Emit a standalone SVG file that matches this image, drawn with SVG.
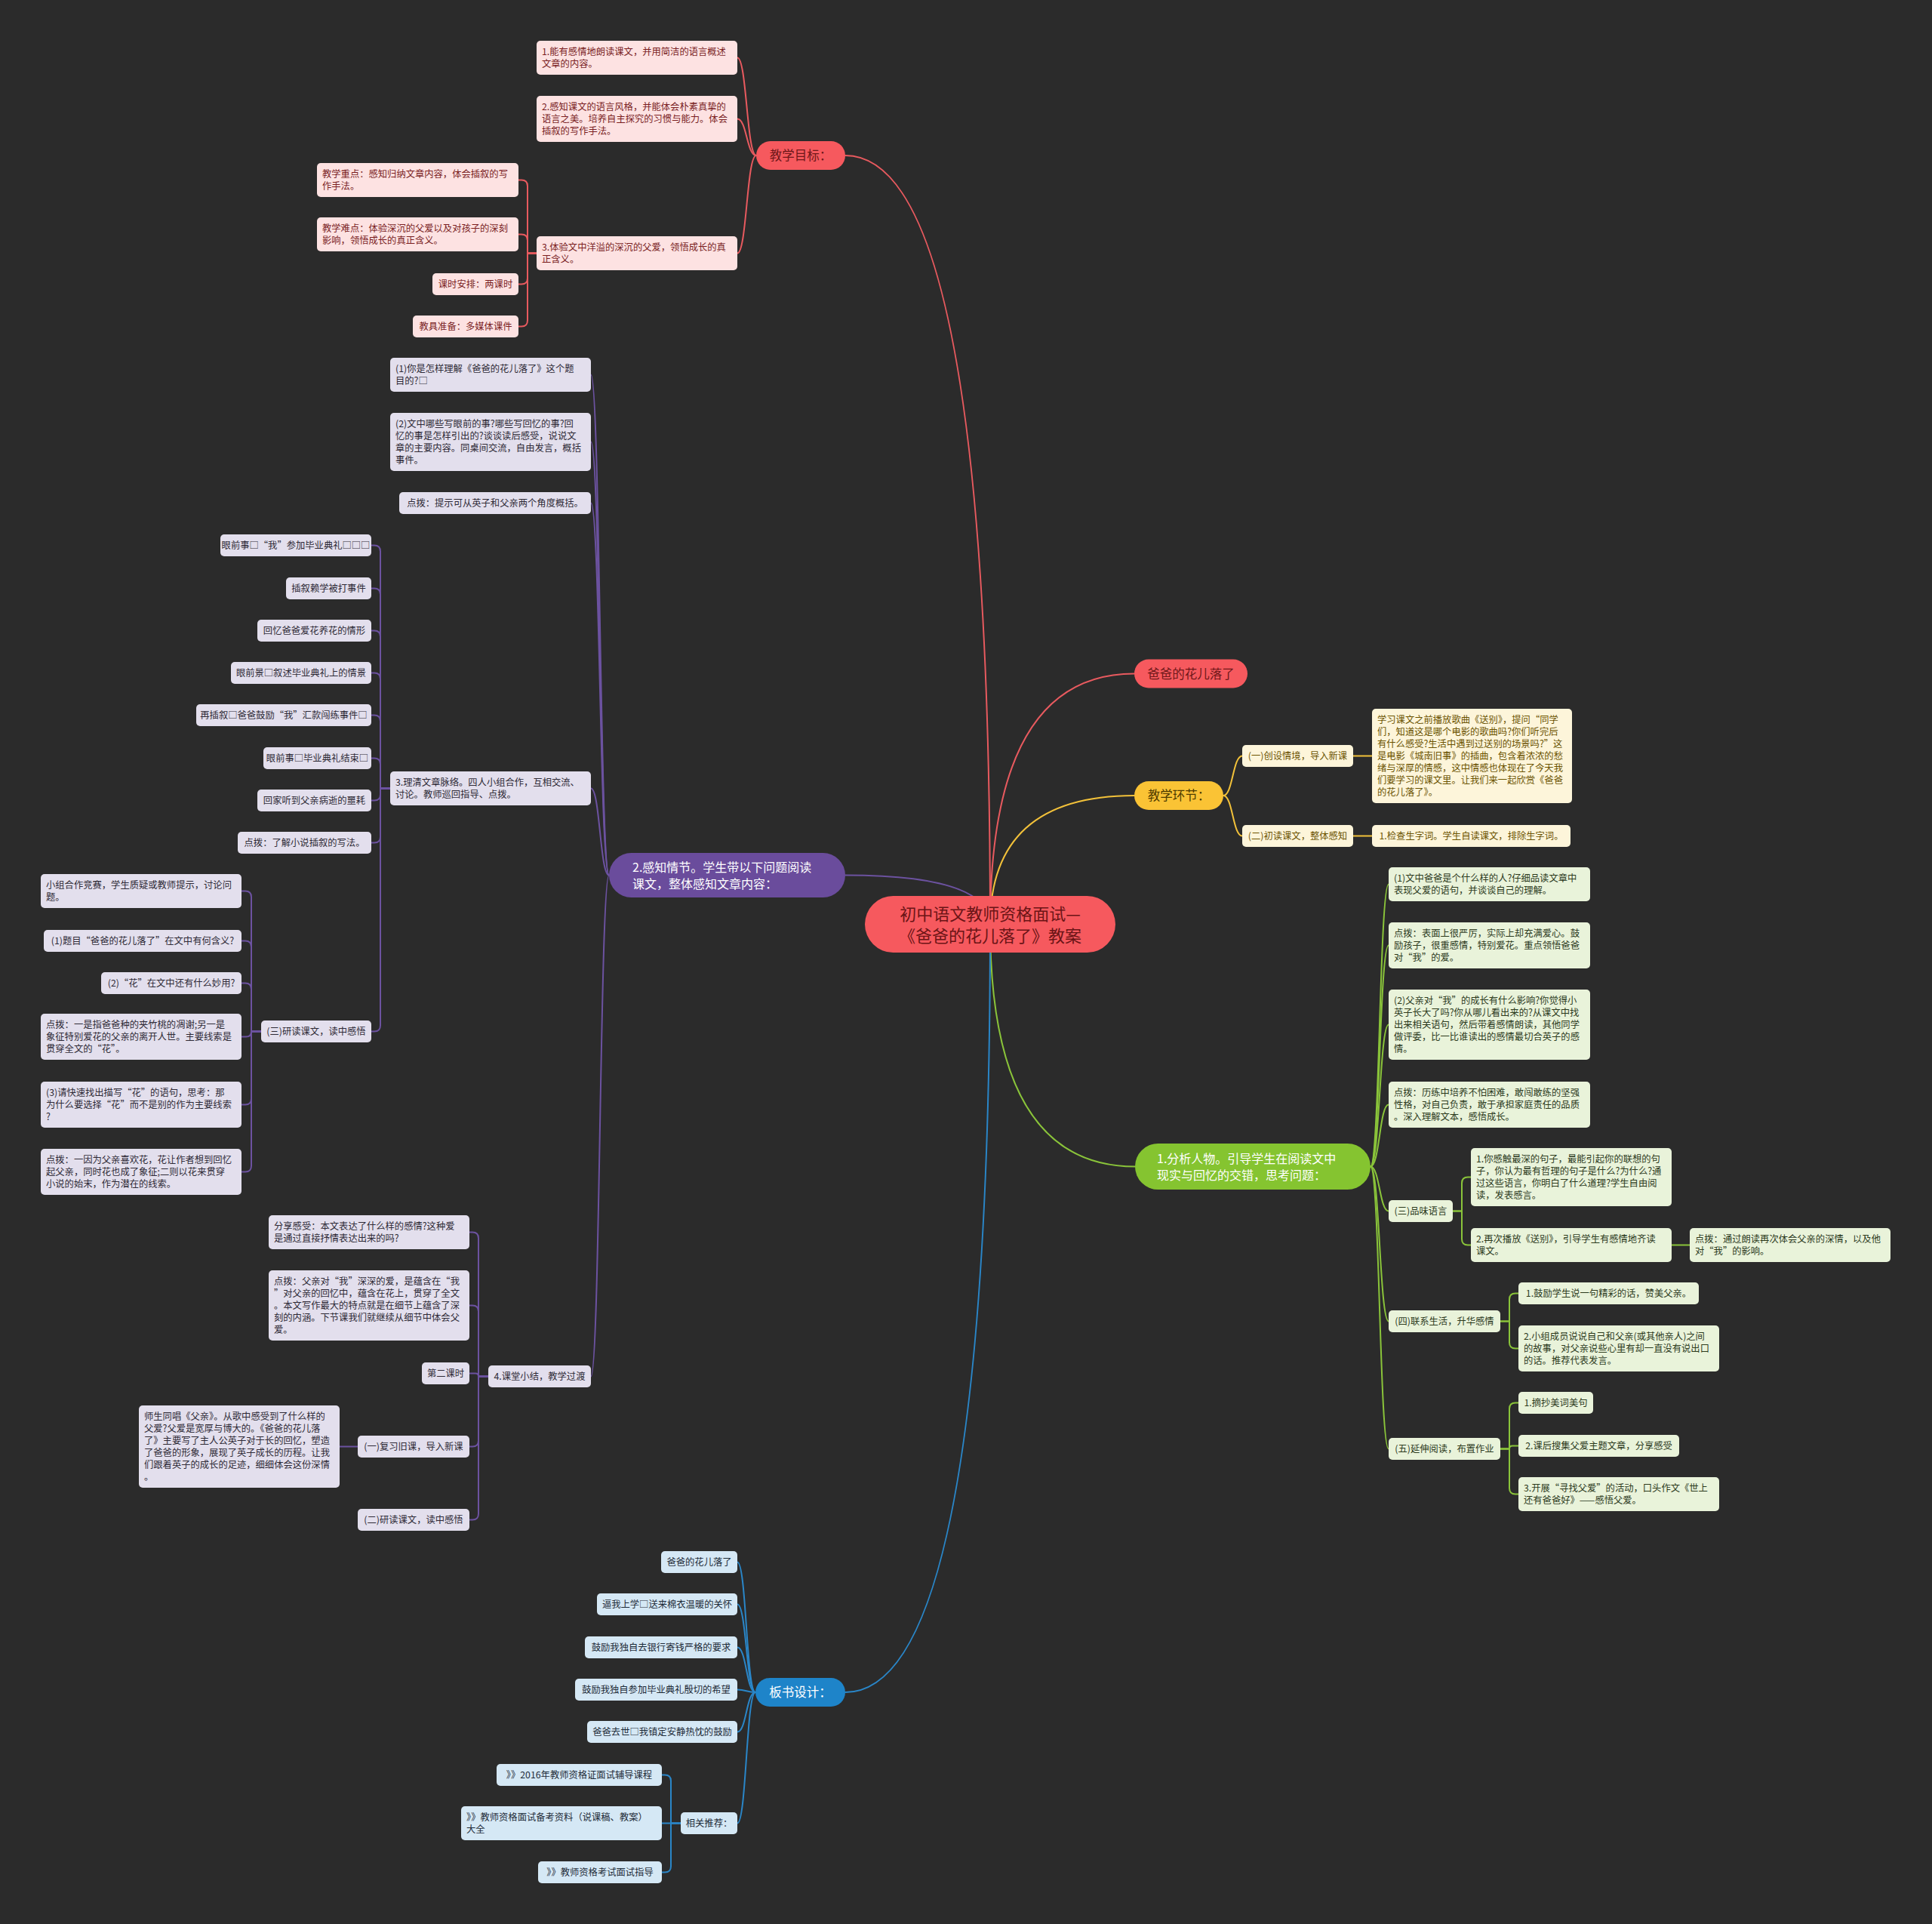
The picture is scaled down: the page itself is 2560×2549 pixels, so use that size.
<svg xmlns="http://www.w3.org/2000/svg" width="2560" height="2549" viewBox="0 0 2560 2549">
<style>
text{font-family:"Noto Sans CJK SC","Microsoft YaHei",sans-serif;font-size:12.3px}
.c text{text-anchor:middle}
.k1 text{font-size:16.5px}
.k2 text{font-size:16px}
.rd rect{fill:#fde2e2}.rd text{fill:#7a1d1f}
.pu rect{fill:#e3dfed}.pu text{fill:#2e2a36}
.ye rect{fill:#fdf5da}.ye text{fill:#6b5300}
.gr rect{fill:#e9f3da}.gr text{fill:#2c3a1c}
.bl rect{fill:#d5e8f5}.bl text{fill:#1d2b38}
.mr rect{fill:#f6595e}.mr text{fill:#6e1719}
.mp rect{fill:#6a4c9c}.mp text{fill:#ffffff}
.my rect{fill:#fac335}.my text{fill:#4f3c00}
.mg rect{fill:#85c430}.mg text{fill:#ffffff}
.mb rect{fill:#1e84c9}.mb text{fill:#ffffff}
#connectors path{fill:none;stroke-width:2;stroke-linecap:round}
.lr{stroke:#e85a5f}.lp{stroke:#6c52a0}.ly{stroke:#f2c13a}.lg{stroke:#8ac43a}.lb{stroke:#2a86c8}
</style>
<rect width="2560" height="2549" fill="#2b2b2b"/>
<g id="connectors">
<path class="lr" d="M1312,1225 Q1312,206 1120,206"/>
<path class="lr" d="M1312,1225 Q1312,892.5 1503,892.5"/>
<path class="ly" d="M1312,1225 Q1312,1054 1503,1054"/>
<path class="lp" d="M1312,1225 Q1312,1159.5 1120,1159.5"/>
<path class="lg" d="M1312,1225 Q1312,1545.5 1504,1545.5"/>
<path class="lb" d="M1312,1225 Q1312,2242 1120,2242"/>
<path class="lr" d="M1002,206 C989.5,206 989.5,76.5 977,76.5"/>
<path class="lr" d="M1002,206 C989.5,206 989.5,157.5 977,157.5"/>
<path class="lr" d="M1002,206 C989.5,206 989.5,335.5 977,335.5"/>
<path class="lr" d="M711,335.5 H699 V246.5 Q699,238.5 691,238.5 H687"/>
<path class="lr" d="M711,335.5 H699 V318.5 Q699,310.5 691,310.5 H687"/>
<path class="lr" d="M711,335.5 H699 V368.5 Q699,376.5 691,376.5 H687"/>
<path class="lr" d="M711,335.5 H699 V424.5 Q699,432.5 691,432.5 H687"/>
<path class="lp" d="M807,1159.5 C795,1159.5 795,496.5 783,496.5"/>
<path class="lp" d="M807,1159.5 C795,1159.5 795,585.5 783,585.5"/>
<path class="lp" d="M807,1159.5 C795,1159.5 795,666.5 783,666.5"/>
<path class="lp" d="M807,1159.5 C795,1159.5 795,1044.5 783,1044.5"/>
<path class="lp" d="M807,1159.5 C795,1159.5 795,1823.5 783,1823.5"/>
<path class="lp" d="M517,1044.5 H504 V730.5 Q504,722.5 496,722.5 H492"/>
<path class="lp" d="M517,1044.5 H504 V787.5 Q504,779.5 496,779.5 H492"/>
<path class="lp" d="M517,1044.5 H504 V843.5 Q504,835.5 496,835.5 H492"/>
<path class="lp" d="M517,1044.5 H504 V899.5 Q504,891.5 496,891.5 H492"/>
<path class="lp" d="M517,1044.5 H504 V955.5 Q504,947.5 496,947.5 H492"/>
<path class="lp" d="M517,1044.5 H504 V1012.5 Q504,1004.5 496,1004.5 H492"/>
<path class="lp" d="M517,1044.5 H504 V1052.5 Q504,1060.5 496,1060.5 H492"/>
<path class="lp" d="M517,1044.5 H504 V1108.5 Q504,1116.5 496,1116.5 H492"/>
<path class="lp" d="M517,1044.5 H504 V1358.5 Q504,1366.5 496,1366.5 H492"/>
<path class="lp" d="M346,1366.5 H333 V1188.5 Q333,1180.5 325,1180.5 H320"/>
<path class="lp" d="M346,1366.5 H333 V1254.5 Q333,1246.5 325,1246.5 H320"/>
<path class="lp" d="M346,1366.5 H333 V1310.5 Q333,1302.5 325,1302.5 H320"/>
<path class="lp" d="M346,1366.5 H333 Q333,1373.5 326,1373.5 H320"/>
<path class="lp" d="M346,1366.5 H333 V1455.5 Q333,1463.5 325,1463.5 H320"/>
<path class="lp" d="M346,1366.5 H333 V1544.5 Q333,1552.5 325,1552.5 H320"/>
<path class="lp" d="M647,1823.5 H634 V1640.5 Q634,1632.5 626,1632.5 H622"/>
<path class="lp" d="M647,1823.5 H634 V1737.5 Q634,1729.5 626,1729.5 H622"/>
<path class="lp" d="M647,1823.5 H634 Q634,1819.5 630,1819.5 H622"/>
<path class="lp" d="M647,1823.5 H634 V1908.5 Q634,1916.5 626,1916.5 H622"/>
<path class="lp" d="M647,1823.5 H634 V2005.5 Q634,2013.5 626,2013.5 H622"/>
<path class="lp" d="M474,1916.5 H450"/>
<path class="lb" d="M1001,2242 C989,2242 989,2069.5 977,2069.5"/>
<path class="lb" d="M1001,2242 C989,2242 989,2125.5 977,2125.5"/>
<path class="lb" d="M1001,2242 C989,2242 989,2182.5 977,2182.5"/>
<path class="lb" d="M1001,2242 C989,2242 989,2238.5 977,2238.5"/>
<path class="lb" d="M1001,2242 C989,2242 989,2294.5 977,2294.5"/>
<path class="lb" d="M1001,2242 C989,2242 989,2415.5 977,2415.5"/>
<path class="lb" d="M902,2415.5 H889 V2359.5 Q889,2351.5 881,2351.5 H877"/>
<path class="lb" d="M902,2415.5 H877"/>
<path class="lb" d="M902,2415.5 H889 V2472.5 Q889,2480.5 881,2480.5 H877"/>
<path class="ly" d="M1621,1054 C1633.5,1054 1633.5,1001.5 1646,1001.5"/>
<path class="ly" d="M1621,1054 C1633.5,1054 1633.5,1107.5 1646,1107.5"/>
<path class="ly" d="M1793,1001.5 H1818"/>
<path class="ly" d="M1793,1107.5 H1818"/>
<path class="lg" d="M1816,1545.5 C1828,1545.5 1828,1171.5 1840,1171.5"/>
<path class="lg" d="M1816,1545.5 C1828,1545.5 1828,1252.5 1840,1252.5"/>
<path class="lg" d="M1816,1545.5 C1828,1545.5 1828,1357.5 1840,1357.5"/>
<path class="lg" d="M1816,1545.5 C1828,1545.5 1828,1463.5 1840,1463.5"/>
<path class="lg" d="M1816,1545.5 C1828,1545.5 1828,1604.5 1840,1604.5"/>
<path class="lg" d="M1816,1545.5 C1828,1545.5 1828,1750.5 1840,1750.5"/>
<path class="lg" d="M1816,1545.5 C1828,1545.5 1828,1919.5 1840,1919.5"/>
<path class="lg" d="M1925,1604.5 H1937 V1567.5 Q1937,1559.5 1945,1559.5 H1949"/>
<path class="lg" d="M1925,1604.5 H1937 V1641.5 Q1937,1649.5 1945,1649.5 H1949"/>
<path class="lg" d="M2215,1649.5 H2239"/>
<path class="lg" d="M1988,1750.5 H2000 V1721.5 Q2000,1713.5 2008,1713.5 H2012"/>
<path class="lg" d="M1988,1750.5 H2000 V1778.5 Q2000,1786.5 2008,1786.5 H2012"/>
<path class="lg" d="M1988,1919.5 H2000 V1866.5 Q2000,1858.5 2008,1858.5 H2012"/>
<path class="lg" d="M1988,1919.5 H2000 Q2000,1915.5 2004,1915.5 H2012"/>
<path class="lg" d="M1988,1919.5 H2000 V1971.5 Q2000,1979.5 2008,1979.5 H2012"/>
</g>

<g id="n-root"><rect x="1146" y="1187" width="332" height="75" rx="37.5" fill="#f6595e"/><text text-anchor="middle" style="font-size:22px" fill="#6b1416"><tspan x="1312" y="1218.5">初中语文教师资格面试—</tspan><tspan x="1312" y="1247.5">《爸爸的花儿落了》教案</tspan></text></g>

<g id="n-t1" class="mr c k1"><rect x="1002" y="187" width="118" height="38" rx="19"/><text x="1061" y="212">教学目标：</text></g>
<g id="n-t2" class="mr c k1"><rect x="1503" y="873.5" width="150" height="38" rx="19"/><text x="1578" y="898.5">爸爸的花儿落了</text></g>
<g id="n-t3" class="my c k1"><rect x="1503" y="1035" width="118" height="38" rx="19"/><text x="1562" y="1060">教学环节：</text></g>
<g id="n-t4" class="mp k2"><rect x="807" y="1130" width="313" height="59" rx="29.5"/><text><tspan x="838" y="1154.5">2.感知情节。学生带以下问题阅读</tspan><tspan x="838" y="1176.5">课文，整体感知文章内容：</tspan></text></g>
<g id="n-t5" class="mg k2"><rect x="1504" y="1515" width="312" height="61" rx="30.5"/><text><tspan x="1533" y="1540.5">1.分析人物。引导学生在阅读文中</tspan><tspan x="1533" y="1562.5">现实与回忆的交错，思考问题：</tspan></text></g>
<g id="n-t6" class="mb c k1"><rect x="1001" y="2223" width="119" height="38" rx="19"/><text x="1060.5" y="2248">板书设计：</text></g>

<g id="n-a1" class="rd"><rect x="711" y="54" width="266" height="45" rx="5"/><text><tspan x="718" y="73">1.能有感情地朗读课文，并用简洁的语言概述</tspan><tspan x="718" y="89">文章的内容。</tspan></text></g>
<g id="n-a2" class="rd"><rect x="711" y="127" width="266" height="61" rx="5"/><text><tspan x="718" y="146">2.感知课文的语言风格，并能体会朴素真挚的</tspan><tspan x="718" y="162">语言之美。培养自主探究的习惯与能力。体会</tspan><tspan x="718" y="178">插叙的写作手法。</tspan></text></g>
<g id="n-a3" class="rd"><rect x="711" y="313" width="266" height="45" rx="5"/><text><tspan x="718" y="332">3.体验文中洋溢的深沉的父爱，领悟成长的真</tspan><tspan x="718" y="348">正含义。</tspan></text></g>
<g id="n-b1" class="rd"><rect x="420" y="216" width="267" height="45" rx="5"/><text><tspan x="427" y="235">教学重点：感知归纳文章内容，体会插叙的写</tspan><tspan x="427" y="251">作手法。</tspan></text></g>
<g id="n-b2" class="rd"><rect x="420" y="288" width="267" height="45" rx="5"/><text><tspan x="427" y="307">教学难点：体验深沉的父爱以及对孩子的深刻</tspan><tspan x="427" y="323">影响，领悟成长的真正含义。</tspan></text></g>
<g id="n-b3" class="rd c"><rect x="573" y="362" width="114" height="29" rx="5"/><text x="630" y="381">课时安排：两课时</text></g>
<g id="n-b4" class="rd c"><rect x="547" y="418" width="140" height="29" rx="5"/><text x="617" y="437">教具准备：多媒体课件</text></g>

<g id="n-c1" class="pu"><rect x="517" y="474" width="266" height="45" rx="5"/><text><tspan x="524" y="493">(1)你是怎样理解《爸爸的花儿落了》这个题</tspan><tspan x="524" y="509">目的?□</tspan></text></g>
<g id="n-c2" class="pu"><rect x="517" y="547" width="266" height="77" rx="5"/><text><tspan x="524" y="566">(2)文中哪些写眼前的事?哪些写回忆的事?回</tspan><tspan x="524" y="582">忆的事是怎样引出的?谈谈读后感受，说说文</tspan><tspan x="524" y="598">章的主要内容。同桌间交流，自由发言，概括</tspan><tspan x="524" y="614">事件。</tspan></text></g>
<g id="n-c3" class="pu c"><rect x="529" y="652" width="254" height="29" rx="5"/><text x="656" y="671">点拨：提示可从英子和父亲两个角度概括。</text></g>
<g id="n-c4" class="pu"><rect x="517" y="1022" width="266" height="45" rx="5"/><text><tspan x="524" y="1041">3.理清文章脉络。四人小组合作，互相交流、</tspan><tspan x="524" y="1057">讨论。教师巡回指导、点拨。</tspan></text></g>
<g id="n-c5" class="pu c"><rect x="647" y="1809" width="136" height="29" rx="5"/><text x="715" y="1828">4.课堂小结，教学过渡</text></g>
<g id="n-d1" class="pu c"><rect x="292" y="708" width="200" height="29" rx="5"/><text x="392" y="727">眼前事□“我”参加毕业典礼□□□</text></g>
<g id="n-d2" class="pu c"><rect x="379" y="765" width="113" height="29" rx="5"/><text x="435.5" y="784">插叙赖学被打事件</text></g>
<g id="n-d3" class="pu c"><rect x="341" y="821" width="151" height="29" rx="5"/><text x="416.5" y="840">回忆爸爸爱花养花的情形</text></g>
<g id="n-d4" class="pu c"><rect x="306" y="877" width="186" height="29" rx="5"/><text x="399" y="896">眼前景□叙述毕业典礼上的情景</text></g>
<g id="n-d5" class="pu c"><rect x="260" y="933" width="232" height="29" rx="5"/><text x="376" y="952">再插叙□爸爸鼓励“我”汇款闯练事件□</text></g>
<g id="n-d6" class="pu c"><rect x="349" y="990" width="143" height="29" rx="5"/><text x="420.5" y="1009">眼前事□毕业典礼结束□</text></g>
<g id="n-d7" class="pu c"><rect x="341" y="1046" width="151" height="29" rx="5"/><text x="416.5" y="1065">回家听到父亲病逝的噩耗</text></g>
<g id="n-d8" class="pu c"><rect x="315" y="1102" width="177" height="29" rx="5"/><text x="403.5" y="1121">点拨：了解小说插叙的写法。</text></g>
<g id="n-d9" class="pu c"><rect x="346" y="1352" width="146" height="29" rx="5"/><text x="419" y="1371">(三)研读课文，读中感悟</text></g>
<g id="n-e1" class="pu"><rect x="54" y="1158" width="266" height="45" rx="5"/><text><tspan x="61" y="1177">小组合作竞赛，学生质疑或教师提示，讨论问</tspan><tspan x="61" y="1193">题。</tspan></text></g>
<g id="n-e2" class="pu c"><rect x="58" y="1232" width="262" height="29" rx="5"/><text x="189" y="1251">(1)题目“爸爸的花儿落了”在文中有何含义?</text></g>
<g id="n-e3" class="pu c"><rect x="134" y="1288" width="186" height="29" rx="5"/><text x="227" y="1307">(2)“花”在文中还有什么妙用?</text></g>
<g id="n-e4" class="pu"><rect x="54" y="1343" width="266" height="61" rx="5"/><text><tspan x="61" y="1362">点拨：一是指爸爸种的夹竹桃的凋谢;另一是</tspan><tspan x="61" y="1378">象征特别爱花的父亲的离开人世。主要线索是</tspan><tspan x="61" y="1394">贯穿全文的“花”。</tspan></text></g>
<g id="n-e5" class="pu"><rect x="54" y="1433" width="266" height="61" rx="5"/><text><tspan x="61" y="1452">(3)请快速找出描写“花”的语句，思考：那</tspan><tspan x="61" y="1468">为什么要选择“花”而不是别的作为主要线索</tspan><tspan x="61" y="1484">?</tspan></text></g>
<g id="n-e6" class="pu"><rect x="54" y="1522" width="266" height="61" rx="5"/><text><tspan x="61" y="1541">点拨：一因为父亲喜欢花，花让作者想到回忆</tspan><tspan x="61" y="1557">起父亲，同时花也成了象征;二则以花来贯穿</tspan><tspan x="61" y="1573">小说的始末，作为潜在的线索。</tspan></text></g>
<g id="n-f1" class="pu"><rect x="356" y="1610" width="266" height="45" rx="5"/><text><tspan x="363" y="1629">分享感受：本文表达了什么样的感情?这种爱</tspan><tspan x="363" y="1645">是通过直接抒情表达出来的吗?</tspan></text></g>
<g id="n-f2" class="pu"><rect x="356" y="1683" width="266" height="93" rx="5"/><text><tspan x="363" y="1702">点拨：父亲对“我”深深的爱，是蕴含在“我</tspan><tspan x="363" y="1718">”对父亲的回忆中，蕴含在花上，贯穿了全文</tspan><tspan x="363" y="1734">。本文写作最大的特点就是在细节上蕴含了深</tspan><tspan x="363" y="1750">刻的内涵。下节课我们就继续从细节中体会父</tspan><tspan x="363" y="1766">爱。</tspan></text></g>
<g id="n-f3" class="pu c"><rect x="559" y="1805" width="63" height="29" rx="5"/><text x="590.5" y="1824">第二课时</text></g>
<g id="n-f4" class="pu c"><rect x="474" y="1902" width="148" height="29" rx="5"/><text x="548" y="1921">(一)复习旧课，导入新课</text></g>
<g id="n-f5" class="pu c"><rect x="474" y="1999" width="148" height="29" rx="5"/><text x="548" y="2018">(二)研读课文，读中感悟</text></g>
<g id="n-g1" class="pu"><rect x="184" y="1862" width="266" height="109" rx="5"/><text><tspan x="191" y="1881">师生同唱《父亲》。从歌中感受到了什么样的</tspan><tspan x="191" y="1897">父爱?父爱是宽厚与博大的。《爸爸的花儿落</tspan><tspan x="191" y="1913">了》主要写了主人公英子对于长的回忆，塑造</tspan><tspan x="191" y="1929">了爸爸的形象，展现了英子成长的历程。让我</tspan><tspan x="191" y="1945">们跟着英子的成长的足迹，细细体会这份深情</tspan><tspan x="191" y="1961">。</tspan></text></g>

<g id="n-h1" class="bl c"><rect x="876" y="2055" width="101" height="29" rx="5"/><text x="926.5" y="2074">爸爸的花儿落了</text></g>
<g id="n-h2" class="bl c"><rect x="791" y="2111" width="186" height="29" rx="5"/><text x="884" y="2130">逼我上学□送来棉衣温暖的关怀</text></g>
<g id="n-h3" class="bl c"><rect x="775" y="2168" width="202" height="29" rx="5"/><text x="876" y="2187">鼓励我独自去银行寄钱严格的要求</text></g>
<g id="n-h4" class="bl c"><rect x="762" y="2224" width="215" height="29" rx="5"/><text x="869.5" y="2243">鼓励我独自参加毕业典礼殷切的希望</text></g>
<g id="n-h5" class="bl c"><rect x="778" y="2280" width="199" height="29" rx="5"/><text x="877.5" y="2299">爸爸去世□我镇定安静热忱的鼓励</text></g>
<g id="n-h6" class="bl c"><rect x="902" y="2401" width="75" height="29" rx="5"/><text x="939.5" y="2420">相关推荐：</text></g>
<g id="n-i1" class="bl c"><rect x="658" y="2337" width="219" height="29" rx="5"/><text x="767.5" y="2356">》》2016年教师资格证面试辅导课程</text></g>
<g id="n-i2" class="bl"><rect x="611" y="2393" width="266" height="45" rx="5"/><text><tspan x="618" y="2412">》》教师资格面试备考资料（说课稿、教案）</tspan><tspan x="618" y="2428">大全</tspan></text></g>
<g id="n-i3" class="bl c"><rect x="713" y="2466" width="164" height="29" rx="5"/><text x="795" y="2485">》》教师资格考试面试指导</text></g>

<g id="n-j1" class="ye c"><rect x="1646" y="987" width="147" height="29" rx="5"/><text x="1719.5" y="1006">(一)创设情境，导入新课</text></g>
<g id="n-j2" class="ye c"><rect x="1646" y="1093" width="147" height="29" rx="5"/><text x="1719.5" y="1112">(二)初读课文，整体感知</text></g>
<g id="n-k1" class="ye"><rect x="1818" y="939" width="265" height="125" rx="5"/><text><tspan x="1825" y="958">学习课文之前播放歌曲《送别》，提问“同学</tspan><tspan x="1825" y="974">们，知道这是哪个电影的歌曲吗?你们听完后</tspan><tspan x="1825" y="990">有什么感受?生活中遇到过送别的场景吗?”这</tspan><tspan x="1825" y="1006">是电影《城南旧事》的插曲，包含着浓浓的愁</tspan><tspan x="1825" y="1022">绪与深厚的情感，这中情感也体现在了今天我</tspan><tspan x="1825" y="1038">们要学习的课文里。让我们来一起欣赏《爸爸</tspan><tspan x="1825" y="1054">的花儿落了》。</tspan></text></g>
<g id="n-k2" class="ye c"><rect x="1818" y="1093" width="263" height="29" rx="5"/><text x="1949.5" y="1112">1.检查生字词。学生自读课文，排除生字词。</text></g>

<g id="n-l1" class="gr"><rect x="1840" y="1149" width="267" height="45" rx="5"/><text><tspan x="1847" y="1168">(1)文中爸爸是个什么样的人?仔细品读文章中</tspan><tspan x="1847" y="1184">表现父爱的语句，并谈谈自己的理解。</tspan></text></g>
<g id="n-l2" class="gr"><rect x="1840" y="1222" width="267" height="61" rx="5"/><text><tspan x="1847" y="1241">点拨：表面上很严厉，实际上却充满爱心。鼓</tspan><tspan x="1847" y="1257">励孩子，很重感情，特别爱花。重点领悟爸爸</tspan><tspan x="1847" y="1273">对“我”的爱。</tspan></text></g>
<g id="n-l3" class="gr"><rect x="1840" y="1311" width="267" height="93" rx="5"/><text><tspan x="1847" y="1330">(2)父亲对“我”的成长有什么影响?你觉得小</tspan><tspan x="1847" y="1346">英子长大了吗?你从哪儿看出来的?从课文中找</tspan><tspan x="1847" y="1362">出来相关语句，然后带着感情朗读，其他同学</tspan><tspan x="1847" y="1378">做评委，比一比谁读出的感情最切合英子的感</tspan><tspan x="1847" y="1394">情。</tspan></text></g>
<g id="n-l4" class="gr"><rect x="1840" y="1433" width="267" height="61" rx="5"/><text><tspan x="1847" y="1452">点拨：历练中培养不怕困难，敢闯敢练的坚强</tspan><tspan x="1847" y="1468">性格，对自己负责，敢于承担家庭责任的品质</tspan><tspan x="1847" y="1484">。深入理解文本，感悟成长。</tspan></text></g>
<g id="n-l5" class="gr c"><rect x="1840" y="1590" width="85" height="29" rx="5"/><text x="1882.5" y="1609">(三)品味语言</text></g>
<g id="n-m1" class="gr"><rect x="1949" y="1521" width="266" height="77" rx="5"/><text><tspan x="1956" y="1540">1.你感触最深的句子，最能引起你的联想的句</tspan><tspan x="1956" y="1556">子，你认为最有哲理的句子是什么?为什么?通</tspan><tspan x="1956" y="1572">过这些语言，你明白了什么道理?学生自由阅</tspan><tspan x="1956" y="1588">读，发表感言。</tspan></text></g>
<g id="n-m2" class="gr"><rect x="1949" y="1627" width="266" height="45" rx="5"/><text><tspan x="1956" y="1646">2.再次播放《送别》，引导学生有感情地齐读</tspan><tspan x="1956" y="1662">课文。</tspan></text></g>
<g id="n-n1" class="gr"><rect x="2239" y="1627" width="266" height="45" rx="5"/><text><tspan x="2246" y="1646">点拨：通过朗读再次体会父亲的深情，以及他</tspan><tspan x="2246" y="1662">对“我”的影响。</tspan></text></g>
<g id="n-l6" class="gr c"><rect x="1840" y="1736" width="148" height="29" rx="5"/><text x="1914" y="1755">(四)联系生活，升华感情</text></g>
<g id="n-o1" class="gr c"><rect x="2012" y="1699" width="239" height="29" rx="5"/><text x="2131.5" y="1718">1.鼓励学生说一句精彩的话，赞美父亲。</text></g>
<g id="n-o2" class="gr"><rect x="2012" y="1756" width="266" height="61" rx="5"/><text><tspan x="2019" y="1775">2.小组成员说说自己和父亲(或其他亲人)之间</tspan><tspan x="2019" y="1791">的故事，对父亲说些心里有却一直没有说出口</tspan><tspan x="2019" y="1807">的话。推荐代表发言。</tspan></text></g>
<g id="n-l7" class="gr c"><rect x="1840" y="1905" width="148" height="29" rx="5"/><text x="1914" y="1924">(五)延伸阅读，布置作业</text></g>
<g id="n-p1" class="gr c"><rect x="2012" y="1844" width="99" height="29" rx="5"/><text x="2061.5" y="1863">1.摘抄美词美句</text></g>
<g id="n-p2" class="gr c"><rect x="2012" y="1901" width="213" height="29" rx="5"/><text x="2118.5" y="1920">2.课后搜集父爱主题文章，分享感受</text></g>
<g id="n-p3" class="gr"><rect x="2012" y="1957" width="266" height="45" rx="5"/><text><tspan x="2019" y="1976">3.开展“寻找父爱”的活动，口头作文《世上</tspan><tspan x="2019" y="1992">还有爸爸好》——感悟父爱。</tspan></text></g>
</svg>
